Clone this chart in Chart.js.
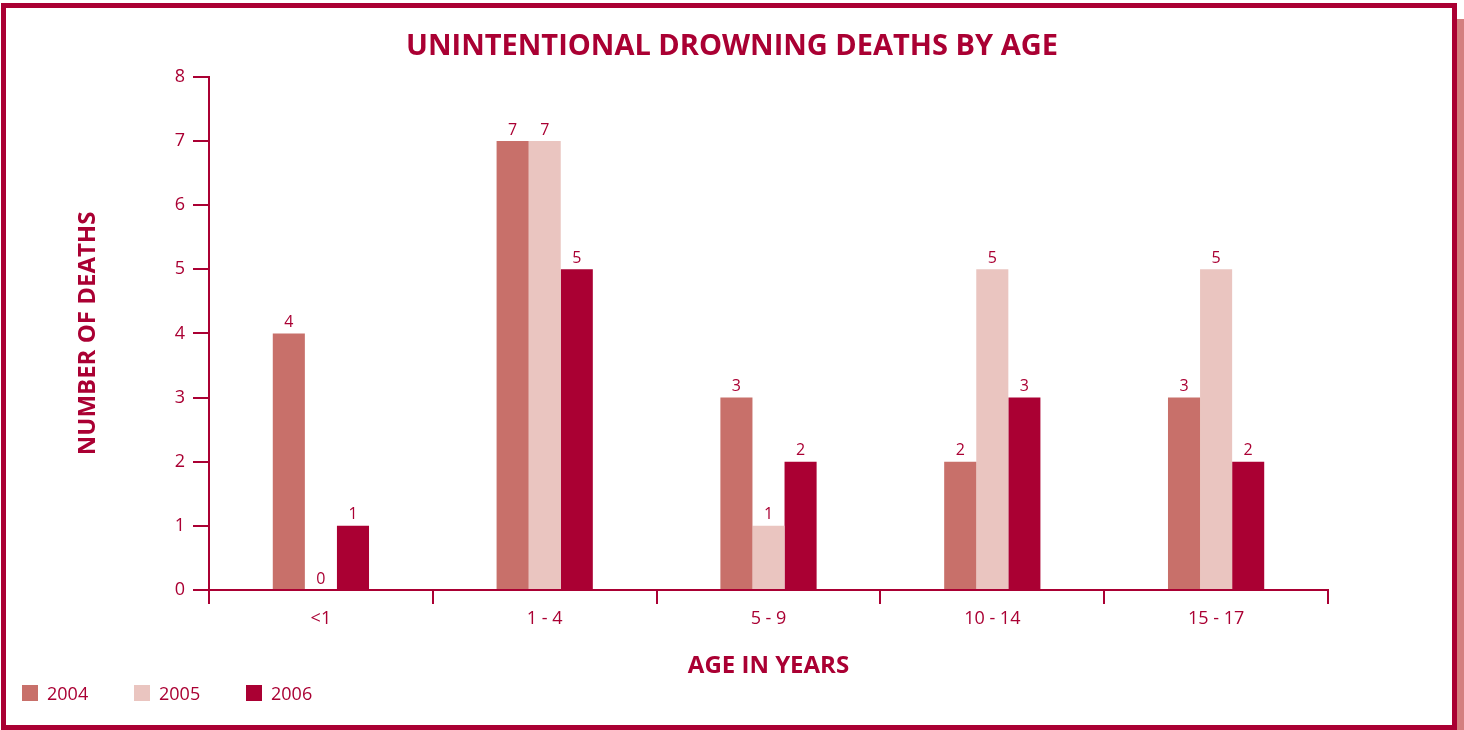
<!DOCTYPE html>
<html lang="en">
<head>
    <meta charset="UTF-8">
    <title>Unintentional Drowning Deaths by Age</title>
    <script src="https://cdn.jsdelivr.net/npm/chart.js"></script>
    <style>
        body { margin: 0; background: #fff; }
        .wrap { position: relative; width: 1464px; height: 730px; overflow: hidden; }
        .frame {
            position: absolute; left: 1px; top: 3px; width: 1456px; height: 727px;
            box-sizing: border-box; border: 5px solid #AA0033;
            box-shadow: 7px 16px 0 #D47F7F;
        }
        canvas { position: absolute; left: 0; top: 0; }
        .legend { position: absolute; left: 22px; top: 681px; display: flex; font-family: "Open Sans", sans-serif; font-size: 18px; color: #AA0033; }
        .legend span.item { display: flex; align-items: center; width: 112px; }
        .legend span.box { width: 16px; height: 16px; margin-right: 9px; display: inline-block; }
    </style>
</head>
<body>
<div class="wrap">
    <div class="frame"></div>
    <canvas id="drowningChart" width="1464" height="730"></canvas>
    <div class="legend" id="legend"></div>
</div>

<script>
    // chart data
    const ageGroups = ['<1', '1 - 4', '5 - 9', '10 - 14', '15 - 17'];
    const deaths2004 = [4, 7, 3, 2, 3];
    const deaths2005 = [0, 7, 1, 5, 5];
    const deaths2006 = [1, 5, 2, 3, 2];
    const yearLabels = ['2004', '2005', '2006'];
    const yearColors = ['#C8706A', '#EAC5C0', '#AA0033'];

    const crimson = '#AA0033';
    const fontFamily = '"Open Sans", sans-serif';

    // small plugin to write the value on top of each bar
    const valueLabels = {
        id: 'valueLabels',
        afterDatasetsDraw(chart) {
            const ctx = chart.ctx;
            ctx.save();
            ctx.fillStyle = crimson;
            ctx.font = '16px ' + fontFamily;
            ctx.textAlign = 'center';
            ctx.textBaseline = 'bottom';
            chart.data.datasets.forEach((ds, i) => {
                chart.getDatasetMeta(i).data.forEach((bar, j) => {
                    ctx.fillText(ds.data[j], bar.x, bar.y - 3);
                });
            });
            ctx.restore();
        }
    };

    const ctx = document.getElementById('drowningChart').getContext('2d');
    const drowningChart = new Chart(ctx, {
        type: 'bar',
        data: {
            labels: ageGroups,
            datasets: [
                { label: yearLabels[0], data: deaths2004, backgroundColor: yearColors[0] },
                { label: yearLabels[1], data: deaths2005, backgroundColor: yearColors[1] },
                { label: yearLabels[2], data: deaths2006, backgroundColor: yearColors[2] }
            ]
        },
        options: {
            responsive: false,
            animation: false,
            categoryPercentage: 0.43,
            barPercentage: 1.0,
            // equal side padding so the title is centred on the page
            layout: { padding: { left: 12, right: 12, top: 20, bottom: 40 } },
            plugins: {
                legend: { display: false },
                tooltip: { enabled: false },
                title: {
                    display: true,
                    text: 'UNINTENTIONAL DROWNING DEATHS BY AGE',
                    color: crimson,
                    font: { family: fontFamily, size: 29, weight: 'bold' },
                    padding: { top: 9, bottom: 13 }
                }
            },
            scales: {
                x: {
                    grid: { display: true, offset: true, drawOnChartArea: false, color: crimson, lineWidth: 2, tickLength: 14 },
                    border: { color: crimson, width: 2 },
                    ticks: { color: crimson, font: { family: fontFamily, size: 18 }, padding: 4 },
                    title: {
                        display: true, text: 'AGE IN YEARS', color: crimson,
                        font: { family: fontFamily, size: 24, weight: 'bold' },
                        padding: { top: 0, bottom: 9 }
                    },
                    afterFit(scale) { scale.height = 100; }
                },
                y: {
                    min: 0, max: 8,
                    ticks: { stepSize: 1, color: crimson, font: { family: fontFamily, size: 18 }, padding: 8 },
                    grid: { display: true, drawOnChartArea: false, color: crimson, lineWidth: 2, tickLength: 16 },
                    border: { color: crimson, width: 2 },
                    title: {
                        display: true, text: 'NUMBER OF DEATHS', color: crimson,
                        font: { family: fontFamily, size: 24, weight: 'bold' },
                        padding: { top: 62, bottom: 0 }
                    },
                    afterFit(scale) { scale.width = 197; }
                },
                // empty spacer on the right, keeps the plot area where it is
                spacer: {
                    position: 'right',
                    min: 0, max: 8,
                    ticks: { display: false },
                    grid: { display: false },
                    border: { display: false },
                    afterFit(scale) { scale.width = 124; }
                }
            }
        },
        plugins: [valueLabels]
    });

    // legend below the chart, built from the datasets
    const legendEl = document.getElementById('legend');
    yearLabels.forEach((year, i) => {
        legendEl.innerHTML += `<span class="item"><span class="box" style="background:${yearColors[i]}"></span>${year}</span>`;
    });
</script>
</body>
</html>
